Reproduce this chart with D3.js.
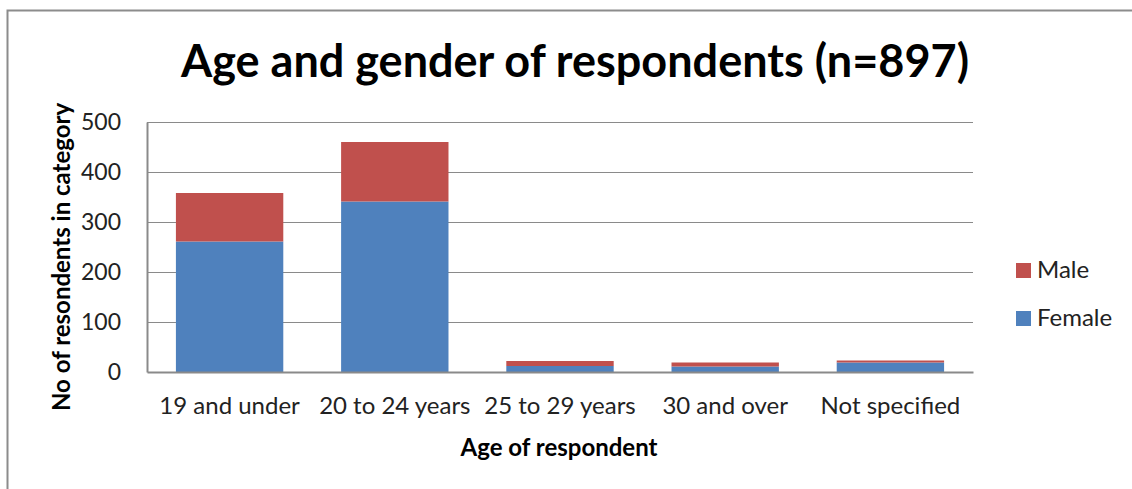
<!DOCTYPE html>
<meta charset="utf-8">
<style>
body { margin: 0; background: #fff; }
svg { display: block; font-family: Lato, "Open Sans", sans-serif; }
</style>
<head>
<script src="https://d3js.org/d3.v7.min.js"></script>
</head>
<body>
<div id="chart"></div>
<script>
// values
var categories = ["19 and under", "20 to 24 years", "25 to 29 years", "30 and over", "Not specified"];
var female = [261, 341, 12, 11, 19];
var male = [97, 119, 10, 8, 4];
var yTicks = [0, 100, 200, 300, 400, 500];
var seriesNames = ["Female", "Male"];
var seriesColors = ["#4f81bd", "#c0504d"];

var W = 1132, H = 489;
var svg = d3.select("#chart").append("svg").attr("width", W).attr("height", H);

// chart frame (left + top edge visible)
svg.append("path")
  .attr("d", "M7.5,489 V10.5 H1132")
  .attr("fill", "none").attr("stroke", "#8c8c8c").attr("stroke-width", 2);

var plot = { left: 147, right: 973, top: 122, bottom: 372 };

var x = d3.scaleBand().domain(categories).range([plot.left, plot.right]).paddingInner(0.35).paddingOuter(0.175);
var y = d3.scaleLinear().domain([0, 500]).range([plot.bottom, plot.top]);

var rows = categories.map(function(c, i) { return { cat: c, Female: female[i], Male: male[i] }; });
var stacked = d3.stack().keys(seriesNames)(rows);

// gridlines
svg.append("g").selectAll("line").data(yTicks.slice(1)).join("line")
  .attr("x1", plot.left).attr("x2", plot.right)
  .attr("y1", function(d) { return Math.round(y(d)) + 0.5; })
  .attr("y2", function(d) { return Math.round(y(d)) + 0.5; })
  .attr("stroke", "#8a8a8a").attr("stroke-width", 1.2);

// bars
svg.append("g").selectAll("g").data(stacked).join("g")
  .attr("fill", function(d, i) { return seriesColors[i]; })
  .selectAll("rect").data(function(d) { return d; }).join("rect")
  .attr("x", function(d) { return x(d.data.cat); })
  .attr("width", x.bandwidth())
  .attr("y", function(d) { return y(d[1]); })
  .attr("height", function(d) { return y(d[0]) - y(d[1]); });

// y axis
var yAxis = svg.append("g").attr("transform", "translate(" + plot.left + ",0)")
  .call(d3.axisLeft(y).tickValues(yTicks).tickSize(0).tickPadding(26));
yAxis.select(".domain").attr("stroke", "#8a8a8a").attr("stroke-width", 2);
yAxis.selectAll("text").attr("font-size", 23).attr("fill", "#222").attr("font-family", "Lato, sans-serif");

// x axis
var xAxis = svg.append("g").attr("transform", "translate(0," + plot.bottom + ")")
  .call(d3.axisBottom(x).tickSize(0).tickPadding(25));
xAxis.select(".domain").attr("stroke", "#8a8a8a").attr("stroke-width", 2);
xAxis.selectAll("text").attr("font-size", 24).attr("fill", "#222").attr("font-family", "Lato, sans-serif");

// title
svg.append("text").attr("x", 575).attr("y", 77).attr("text-anchor", "middle")
  .attr("font-size", 45).attr("font-weight", "bold").attr("fill", "#000")
  .text("Age and gender of respondents (n=897)");

// axis titles
svg.append("text").attr("x", 559).attr("y", 456).attr("text-anchor", "middle")
  .attr("font-size", 24).attr("font-weight", "bold").attr("fill", "#000")
  .text("Age of respondent");
svg.append("text").attr("transform", "translate(70,257) rotate(-90)").attr("text-anchor", "middle")
  .attr("font-size", 24).attr("font-weight", "bold").attr("fill", "#000")
  .text("No of resondents in category");

// legend, Male on top
var legend = svg.append("g").selectAll("g").data(["Male", "Female"]).join("g")
  .attr("transform", function(d, i) { return "translate(1016," + (263 + i * 48) + ")"; });
legend.append("rect").attr("width", 15).attr("height", 15)
  .attr("fill", function(d) { return seriesColors[seriesNames.indexOf(d)]; });
legend.append("text").attr("x", 21).attr("y", 15).attr("font-size", 24).attr("fill", "#222")
  .text(function(d) { return d; });
</script>
</body>
